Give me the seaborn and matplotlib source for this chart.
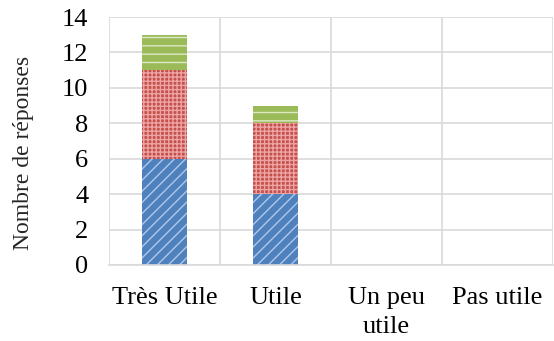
import matplotlib
matplotlib.use("Agg")
import matplotlib.pyplot as plt
import seaborn as sns
import pandas as pd
import numpy as np

categories = ["Très Utile", "Utile", "Un peu\nutile", "Pas utile"]
serie_bleue = [6, 4, 0, 0]
serie_rouge = [5, 4, 0, 0]
serie_verte = [2, 1, 0, 0]
y_ticks = [0, 2, 4, 6, 8, 10, 12, 14]

sns.set_theme(style="white")
plt.rcParams["font.family"] = ["Liberation Serif", "DejaVu Serif"]
plt.rcParams["hatch.linewidth"] = 1.0

# cumulative heights, drawn tallest first so each layer sits on the one below
bas = np.array(serie_bleue)
milieu = bas + np.array(serie_rouge)
haut = milieu + np.array(serie_verte)
df = pd.DataFrame({"cat": categories, "bleu": bas, "rouge": milieu, "vert": haut})

fig = plt.figure(figsize=(5.54, 3.41), dpi=100)
ax = fig.add_axes([0.1968, 0.223, 0.8014, 0.727])

couches = [
    ("vert", "#9BBB59", "#DCE8C6", "--"),
    ("rouge", "#C4504E", "#EDA4A2", "++++"),
    ("bleu", "#4F81BD", "#AFC8EC", "///"),
]
for col, face, trait, motif in couches:
    sns.barplot(data=df, x="cat", y=col, ax=ax, color=face, width=0.4,
                saturation=1, hatch=motif, edgecolor=trait, linewidth=0)

ax.set_ylim(0, 14)
ax.set_xlim(-0.5, 3.5)
ax.set_yticks(y_ticks)
ax.set_xticks(range(len(categories)))
ax.set_xticklabels(categories, linespacing=1.4)
ax.set_xticks(np.arange(-0.5, 3.6, 1), minor=True)
ax.set_axisbelow(True)
ax.grid(True, axis="y", which="major", color="#D9D9D9", linewidth=1.2)
ax.grid(True, axis="x", which="minor", color="#D9D9D9", linewidth=1.2)
ax.grid(False, axis="x", which="major")
for s in ["top", "right"]:
    ax.spines[s].set_visible(False)
ax.spines["left"].set_visible(False)
ax.spines["bottom"].set_color("#D9D9D9")
ax.spines["bottom"].set_linewidth(1.2)

ax.tick_params(axis="both", which="both", length=0, labelsize=19, colors="black")
ax.tick_params(axis="x", pad=16)
ax.tick_params(axis="y", pad=15)
ax.set_xlabel("")
ax.set_ylabel("Nombre de réponses", fontsize=17)
ax.yaxis.set_label_coords(-0.17, 0.45)

fig.savefig("out.png", dpi=100)
